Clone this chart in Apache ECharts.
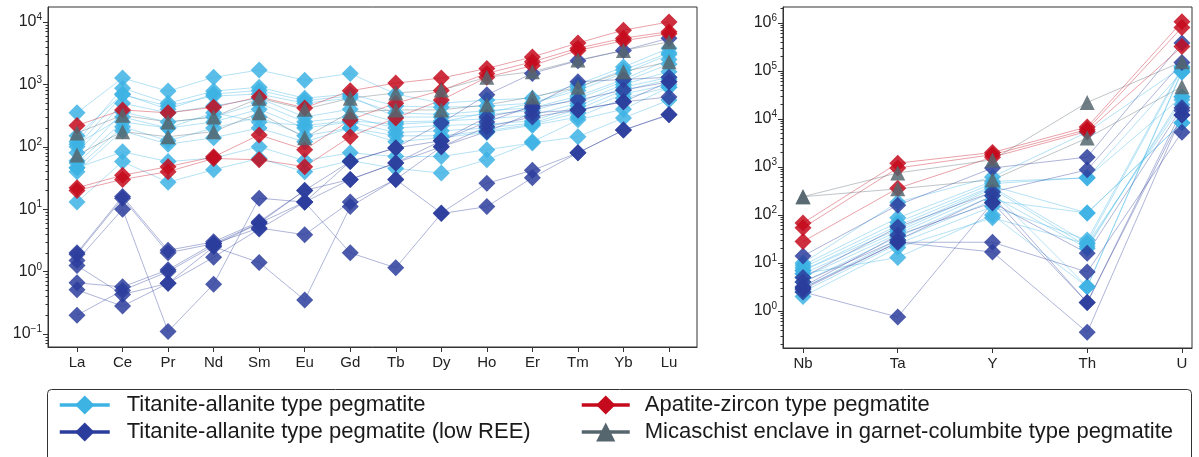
<!DOCTYPE html>
<html>
<head>
<meta charset="utf-8">
<script src="https://cdn.jsdelivr.net/npm/echarts@6/dist/echarts.min.js"></script>
<style>
  html, body { margin: 0; padding: 0; background: #fff; }
  #chart { width: 1199px; height: 457px; }
</style>
</head>
<body>
<div id="chart"></div>
<script>
// element labels
const reeLabels = ['La', 'Ce', 'Pr', 'Nd', 'Sm', 'Eu', 'Gd', 'Tb', 'Dy', 'Ho', 'Er', 'Tm', 'Yb', 'Lu']
const traceLabels = ['Nb', 'Ta', 'Y', 'Th', 'U']
const reeTicks = [0.1, 1, 10, 100, 1000, 10000]
const traceTicks = [1, 10, 100, 1000, 10000, 100000, 1000000]

// group names
const groupNames = [
    'Titanite-allanite type pegmatite',
    'Titanite-allanite type pegmatite (low REE)',
    'Apatite-zircon type pegmatite',
    'Micaschist enclave in garnet-columbite type pegmatite'
]

// chondrite-normalised REE, one row per sample
const titaniteREE = [
    [350, 1260, 780, 1300, 1700, 1170, 1500, 700, 500, 560, 600, 1000, 1900, 3800],
    [120, 870, 500, 780, 900, 600, 700, 450, 430, 450, 500, 800, 1500, 3000],
    [100, 680, 450, 650, 700, 500, 600, 350, 330, 380, 420, 650, 1200, 2500],
    [150, 700, 400, 700, 800, 550, 650, 300, 300, 330, 380, 600, 1100, 2100],
    [80, 500, 350, 450, 600, 300, 400, 250, 260, 280, 320, 500, 1000, 1600],
    [60, 360, 250, 300, 500, 250, 300, 200, 220, 230, 260, 450, 900, 1300],
    [55, 250, 200, 250, 400, 200, 250, 170, 180, 200, 240, 400, 800, 1200],
    [46, 210, 125, 200, 300, 150, 200, 150, 150, 180, 230, 350, 700, 1000],
    [40, 180, 110, 140, 200, 120, 200, 120, 140, 170, 220, 300, 600, 900],
    [46, 83, 58, 66, 100, 60, 80, 70, 70, 90, 115, 145, 290, 560],
    [13, 58, 27, 43, 65, 40, 60, 45, 38, 62, 120, 270, 400, 900],
    [110, 300, 200, 350, 250, 220, 260, 230, 250, 350, 500, 900, 1700, 3200]
]
const lowREE = [
    [2.0, 16, 2.2, 3.0, 6.3, 20, 58, 96, 240, 680, 1500, 2400, 3500, 5500],
    [1.5, 10, 0.11, 0.63, 15, 13, 30, 55, 125, 300, 420, 560, 810, 1100],
    [1.25, 0.43, 0.65, 2.5, 1.4, 0.35, 11, 30, 100, 210, 300, 390, 525, 630],
    [0.66, 0.57, 1.07, 2.8, 5.0, 3.9, 13, 30, 8.7, 26, 42, 80, 185, 325],
    [0.51, 0.28, 0.65, 1.7, 4.8, 13, 2.0, 1.15, 8.5, 11, 32, 80, 185, 330],
    [0.2, 0.5, 1.0, 2.6, 6.0, 20, 30, 55, 100, 175, 350, 390, 525, 1100],
    [1.9, 15, 2.0, 2.8, 6.0, 13, 58, 96, 125, 250, 450, 1100, 1200, 1300]
]
const apatiteREE = [
    [220, 390, 350, 430, 630, 420, 790, 1050, 1260, 1800, 2750, 4600, 7400, 10000],
    [22, 35, 48, 69, 155, 90, 270, 500, 800, 1500, 2300, 3800, 5500, 7000],
    [20, 30, 40, 65, 62, 48, 145, 290, 560, 1300, 2000, 3500, 5000, 6500]
]
const micaschistREE = [
    [166, 320, 250, 300, 600, 400, 600, 730, 810, 1300, 1600, 2450, 3500, 4800],
    [74, 175, 145, 175, 350, 140, 360, 390, 390, 470, 630, 900, 1600, 2300]
]

// normalised Nb, Ta, Y, Th, U
const titaniteTrace = [
    [10, 185, 620, 5300, 120000],
    [9, 87, 500, 590, 95000],
    [8, 70, 450, 600, 29000],
    [7, 60, 400, 110, 8300],
    [7, 50, 380, 26, 110000],
    [6, 45, 350, 22, 25000],
    [5, 40, 300, 3.2, 100000],
    [4, 35, 250, 20, 29000],
    [3, 30, 200, 110, 8300],
    [2.5, 25, 150, 30, 120000],
    [2.0, 21, 87, 25, 20000],
    [6, 13, 100, 3.2, 95000]
]
const lowTrace = [
    [14, 160, 950, 1600, 380000],
    [5, 56, 300, 870, 150000],
    [3.2, 38, 180, 16, 17000],
    [2.5, 0.75, 180, 1.5, 12000],
    [3.0, 27, 27, 6.5, 5300],
    [2.8, 27, 17, 0.36, 12000],
    [4.0, 30, 250, 1.5, 15000]
]
const apatiteTrace = [
    [68, 1200, 2000, 6800, 1050000],
    [54, 950, 1800, 6000, 800000],
    [28, 360, 1600, 5500, 320000]
]
const micaschistTrace = [
    [240, 750, 1400, 22000, 155000],
    [240, 350, 540, 4000, 47000]
]

const groupStyle = [
    { color: '#3db3e4', symbol: 'diamond', size: 17 },
    { color: '#2b3d9c', symbol: 'diamond', size: 17 },
    { color: '#c40a1c', symbol: 'diamond', size: 17 },
    { color: '#56666e', symbol: 'triangle', size: 15 }
]

const font = 'Liberation Sans, Arial, sans-serif'

function supLabel (v) {
    const e = Math.round(Math.log10(v))
    return '{b|10}{s|' + (e < 0 ? '\u2212' + (-e) : e) + '}'
}
function minorValues (lo, hi) {
    const out = []
    for (let k = lo; k <= hi; k++) {
        for (let m = 2; m <= 9; m++) out.push(m * Math.pow(10, k))
    }
    return out
}

function makeSeries (groups, gridIdx) {
    const out = []
    groups.forEach((rows, g) => {
        const st = groupStyle[g]
        rows.forEach(row => {
            out.push({
                name: groupNames[g],
                type: 'line',
                xAxisIndex: gridIdx,
                yAxisIndex: gridIdx * 2,
                data: row.map((v, i) => [i, v]),
                symbol: st.symbol,
                symbolSize: st.size,
                showAllSymbol: true,
                silent: true,
                animation: false,
                lineStyle: { color: st.color, width: 0.7, opacity: 0.55 },
                itemStyle: { color: st.color, opacity: 0.85 }
            })
        })
    })
    return out
}

function yAxes (gridIdx, lo, hi, ticks, minorLo, minorHi) {
    const base = {
        type: 'log',
        logBase: 10,
        gridIndex: gridIdx,
        position: 'left',
        min: Math.pow(10, lo),
        max: Math.pow(10, hi),
        splitLine: { show: false }
    }
    return [
        Object.assign({}, base, {
            axisLine: { show: true, onZero: false, lineStyle: { color: '#333' } },
            axisTick: { show: true, length: 5, customValues: ticks, lineStyle: { color: '#333' } },
            axisLabel: {
                customValues: ticks,
                formatter: supLabel,
                margin: 6,
                rich: {
                    b: { fontSize: 16, color: '#222', fontFamily: font },
                    s: { fontSize: 10, color: '#222', fontFamily: font, padding: [0, 0, 9, 0] }
                }
            }
        }),
        Object.assign({}, base, {
            axisLine: { show: false, onZero: false },
            axisLabel: { show: false },
            axisTick: {
                show: true,
                length: 2.5,
                customValues: minorValues(minorLo, minorHi).filter(v => v > Math.pow(10, lo) && v < Math.pow(10, hi)),
                lineStyle: { color: '#333' }
            }
        })
    ]
}

function xAxis (gridIdx, labels, lo, hi) {
    const idx = labels.map((_, i) => i)
    return {
        type: 'value',
        gridIndex: gridIdx,
        min: lo,
        max: hi,
        splitLine: { show: false },
        axisLine: { show: true, onZero: false, lineStyle: { color: '#333' } },
        axisTick: { show: true, length: 5, customValues: idx, lineStyle: { color: '#333' } },
        axisLabel: {
            customValues: idx,
            formatter: v => labels[Math.round(v)],
            fontSize: 15,
            color: '#222',
            fontFamily: font,
            margin: 8
        }
    }
}

const legendText = { fontSize: 22, color: '#1a1a1a', fontFamily: font }

const chart = echarts.init(document.getElementById('chart'))
const option = {
    backgroundColor: '#fff',
    animation: false,
    grid: [
        { left: 48, top: 7, width: 649, height: 340, show: true, borderColor: '#333', borderWidth: 1 },
        { left: 783, top: 7, width: 409, height: 341, show: true, borderColor: '#333', borderWidth: 1 }
    ],
    xAxis: [
        xAxis(0, reeLabels, -0.637, 13.615),
        xAxis(1, traceLabels, -0.211, 4.106)
    ],
    yAxis: [].concat(
        yAxes(0, -1.208, 4.24, reeTicks, -2, 4),
        yAxes(1, -0.77, 6.33, traceTicks, -1, 6)
    ),
    legend: [
        {
            left: 53, top: 389, orient: 'vertical', itemGap: 5, itemWidth: 50, itemHeight: 24,
            data: [groupNames[0], groupNames[1]],
            textStyle: Object.assign({ padding: [0, 0, 0, 12] }, legendText),
            lineStyle: { width: 3.5, opacity: 1 },
            itemStyle: { opacity: 1 },
            selectedMode: false
        },
        {
            left: 575, top: 389, orient: 'vertical', itemGap: 5, itemWidth: 48, itemHeight: 24,
            data: [groupNames[2], groupNames[3]],
            textStyle: Object.assign({ padding: [0, 0, 0, 10] }, legendText),
            lineStyle: { width: 3.5, opacity: 1 },
            itemStyle: { opacity: 1 },
            selectedMode: false
        }
    ],
    graphic: [{
        type: 'rect',
        shape: { x: 47.5, y: 389.5, width: 1144, height: 80, r: 4 },
        style: { fill: 'none', stroke: '#333', lineWidth: 1 },
        silent: true
    }],
    series: [].concat(
        makeSeries([titaniteREE, lowREE, apatiteREE, micaschistREE], 0),
        makeSeries([titaniteTrace, lowTrace, apatiteTrace, micaschistTrace], 1)
    )
}
chart.setOption(option)
</script>
</body>
</html>
